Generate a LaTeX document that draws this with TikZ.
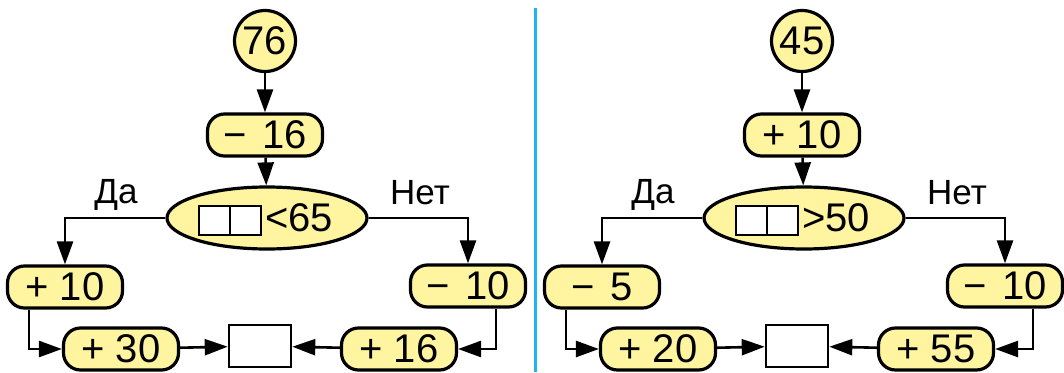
\documentclass[tikz,border=0pt]{standalone}
\usepackage{fontspec}
\setmainfont{Liberation Sans}
\usetikzlibrary{arrows.meta,shapes.geometric}
\definecolor{boxyellow}{RGB}{255,245,160}
\definecolor{sepblue}{RGB}{30,182,242}
\begin{document}
\begin{tikzpicture}[
  bigfont/.style={font=\fontsize{40}{44}\selectfont},
  opbox/.style={draw, line width=3.2pt, fill=boxyellow, rounded corners=17pt,
    minimum width=115pt, minimum height=42pt, inner sep=0pt, bigfont},
  startnode/.style={draw, circle, line width=3.2pt, fill=boxyellow,
    minimum size=61pt, inner sep=0pt, bigfont},
  condnode/.style={draw, ellipse, line width=3.2pt, fill=boxyellow,
    minimum width=200pt, minimum height=62pt, inner sep=0pt},
  slot/.style={draw, line width=2.8pt, fill=white, minimum width=31pt,
    minimum height=29pt, inner sep=0pt},
  resbox/.style={draw, line width=2.6pt, fill=white, minimum width=62pt,
    minimum height=42pt, inner sep=0pt},
  lbl/.style={font=\fontsize{35}{38}\selectfont, inner sep=0pt},
  conn/.style={line width=2.6pt, -{Triangle[length=23pt,width=16pt]}}
]
\useasboundingbox (0pt,0pt) rectangle (1064pt,-372pt);

% separator
\coordinate (sepTop) at (535pt,-8pt);
\coordinate (sepBot) at (535pt,-372pt);
\draw[sepblue, line width=3pt] (sepTop) -- (sepBot);

% ---------- left panel ----------
\begin{scope}
\node[startnode] (Ls) at (265pt,-41pt) {76};
\node[opbox] (Lo) at (265pt,-135pt) {−\hspace{0.12em} 16};
\node[condnode] (Lc) at (267pt,-218pt) {};
\node[slot] (Lq1) at (214.5pt,-220.5pt) {};
\node[slot] (Lq2) at (245.5pt,-220.5pt) {};
\node[bigfont, inner sep=0pt, anchor=base west] (Lt) at (265pt,-231pt) {<65};
\node[lbl, anchor=base] (Lda) at (116pt,-203pt) {Да};
\node[lbl, anchor=base] (Lnet) at (420pt,-204pt) {Нет};
\node[opbox] (Ly) at (65pt,-287pt) {+ 10};
\node[opbox] (Ln) at (468pt,-286pt) {−\hspace{0.12em} 10};
\node[opbox] (Ly2) at (121pt,-349pt) {+ 30};
\node[resbox] (Lr) at (260pt,-346pt) {};
\node[opbox] (Ln2) at (399pt,-349pt) {+ 16};

\draw[conn] (Ls) -- (Lo);
\draw[conn] (Lo) -- (Lc);
\draw[conn] (Lc.west) -| (Ly.north);
\draw[conn] (Lc.east) -| (Ln.north);
\draw[conn] ([xshift=-36pt]Ly.south) |- (Ly2.west);
\draw[conn] ([xshift=28pt]Ln.south) |- (Ln2.east);
\draw[conn] (Ly2) -- (Lr);
\draw[conn] (Ln2) -- (Lr);
\end{scope}

% ---------- right panel ----------
\begin{scope}[xshift=537pt]
\node[startnode] (Rs) at (265pt,-41pt) {45};
\node[opbox] (Ro) at (265pt,-135pt) {+ 10};
\node[condnode] (Rc) at (267pt,-218pt) {};
\node[slot] (Rq1) at (214.5pt,-220.5pt) {};
\node[slot] (Rq2) at (245.5pt,-220.5pt) {};
\node[bigfont, inner sep=0pt, anchor=base west] (Rt) at (265pt,-231pt) {>50};
\node[lbl, anchor=base] (Rda) at (116pt,-203pt) {Да};
\node[lbl, anchor=base] (Rnet) at (420pt,-204pt) {Нет};
\node[opbox] (Ry) at (65pt,-287pt) {−\hspace{0.12em} 5};
\node[opbox] (Rn) at (468pt,-286pt) {−\hspace{0.12em} 10};
\node[opbox] (Ry2) at (121pt,-349pt) {+ 20};
\node[resbox] (Rr) at (260pt,-346pt) {};
\node[opbox] (Rn2) at (399pt,-349pt) {+ 55};

\draw[conn] (Rs) -- (Ro);
\draw[conn] (Ro) -- (Rc);
\draw[conn] (Rc.west) -| (Ry.north);
\draw[conn] (Rc.east) -| (Rn.north);
\draw[conn] ([xshift=-36pt]Ry.south) |- (Ry2.west);
\draw[conn] ([xshift=28pt]Rn.south) |- (Rn2.east);
\draw[conn] (Ry2) -- (Rr);
\draw[conn] (Rn2) -- (Rr);
\end{scope}
\end{tikzpicture}
\end{document}
